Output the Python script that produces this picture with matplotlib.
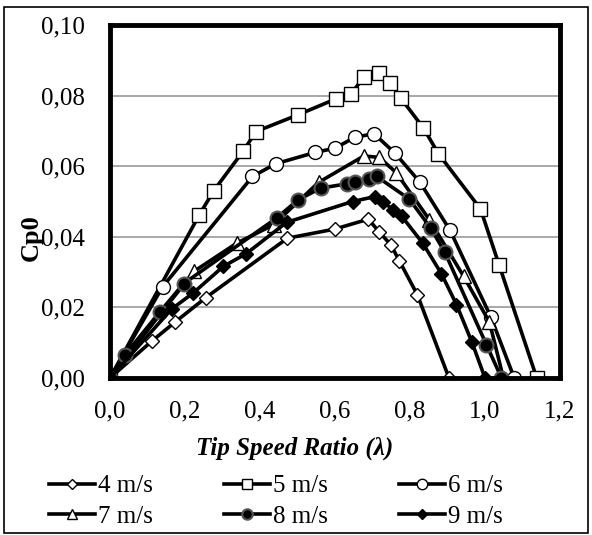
import numpy as np
import matplotlib
matplotlib.use("Agg")
import matplotlib.pyplot as plt
from matplotlib.patches import Rectangle

plt.rcParams['font.family'] = ['Liberation Serif', 'DejaVu Serif']

# tip speed ratio / power coefficient for each wind speed
tsr_4 = [0.0, 0.111, 0.173, 0.256, 0.473, 0.600, 0.689, 0.717, 0.749, 0.772, 0.820, 0.904]
cp_4 = [0.0, 0.0104, 0.0158, 0.0228, 0.0396, 0.0422, 0.0450, 0.0415, 0.0377, 0.0331, 0.0235, 0.0]

tsr_5 = [0.0, 0.238, 0.277, 0.356, 0.389, 0.500, 0.603, 0.642, 0.677, 0.718, 0.748,
         0.776, 0.836, 0.876, 0.988, 1.038, 1.138]
cp_5 = [0.0, 0.0462, 0.0531, 0.0644, 0.0698, 0.0745, 0.0791, 0.0804, 0.0852, 0.0865, 0.0837,
        0.0792, 0.0708, 0.0635, 0.0479, 0.0319, 0.0]

tsr_6 = [0.0, 0.140, 0.380, 0.442, 0.547, 0.600, 0.653, 0.704, 0.760, 0.827, 0.907, 1.016, 1.078]
cp_6 = [0.0, 0.0258, 0.0571, 0.0607, 0.0639, 0.0651, 0.0682, 0.0692, 0.0637, 0.0554, 0.0418, 0.0172, 0.0]

tsr_7 = [0.0, 0.224, 0.338, 0.436, 0.556, 0.677, 0.718, 0.763, 0.852, 0.943, 1.012, 1.049]
cp_7 = [0.0, 0.0302, 0.0382, 0.0434, 0.0554, 0.0629, 0.0625, 0.0582, 0.0448, 0.0288, 0.0158, 0.0]

tsr_8 = [0.0, 0.040, 0.132, 0.196, 0.444, 0.502, 0.562, 0.632, 0.652, 0.690, 0.711,
         0.798, 0.855, 0.893, 1.004, 1.044]
cp_8 = [0.0, 0.0066, 0.0186, 0.0267, 0.0453, 0.0505, 0.0538, 0.0550, 0.0554, 0.0563, 0.0571,
        0.0507, 0.0425, 0.0356, 0.0094, 0.0]

tsr_9 = [0.0, 0.164, 0.222, 0.302, 0.363, 0.471, 0.647, 0.707, 0.727, 0.756, 0.778,
         0.834, 0.884, 0.924, 0.965, 1.000]
cp_9 = [0.0, 0.0195, 0.0241, 0.0316, 0.0352, 0.0441, 0.0500, 0.0514, 0.0500, 0.0476, 0.0458,
        0.0382, 0.0295, 0.0208, 0.0102, 0.0]

labels = ['4 m/s', '5 m/s', '6 m/s', '7 m/s', '8 m/s', '9 m/s']
y_ticks = [0.0, 0.02, 0.04, 0.06, 0.08, 0.10]
x_ticks = [0.0, 0.2, 0.4, 0.6, 0.8, 1.0, 1.2]

fig = plt.figure(figsize=(5.92, 5.35), dpi=100)
ax = fig.add_axes([110 / 592, 1 - 378 / 535, 450 / 592, 353 / 535])

lw = 2.6
h4, = ax.plot(tsr_4, cp_4, '-', color='black', lw=lw, marker='D', ms=7, mfc='white', mec='black', mew=1, label=labels[0])
h5, = ax.plot(tsr_5, cp_5, '-', color='black', lw=lw, marker='s', ms=10, mfc='white', mec='black', mew=1, label=labels[1])
h6, = ax.plot(tsr_6, cp_6, '-', color='black', lw=lw, marker='o', ms=10, mfc='white', mec='black', mew=1, label=labels[2])
h7, = ax.plot(tsr_7, cp_7, '-', color='black', lw=lw, marker='^', ms=10, mfc='white', mec='black', mew=1, label=labels[3])
h8, = ax.plot(tsr_8, cp_8, '-', color='black', lw=lw, marker='o', ms=10, mfc='black', mec='#555555', mew=1.5, label=labels[4])
h9, = ax.plot(tsr_9, cp_9, '-', color='black', lw=lw, marker='D', ms=7, mfc='black', mec='black', mew=1, label=labels[5])

ax.set_xlim(0, 1.2)
ax.set_ylim(0, 0.10)
ax.set_xticks(x_ticks)
ax.set_yticks(y_ticks)
ax.set_xticklabels([f"{v:.1f}".replace('.', ',') for v in x_ticks], fontsize=18)
ax.set_yticklabels([f"{v:.2f}".replace('.', ',') for v in y_ticks], fontsize=18)
ax.tick_params(axis='x', length=0, pad=16)
ax.tick_params(axis='y', length=0, pad=18)
ax.grid(axis='y', color='#999999', lw=1.2)
ax.set_axisbelow(True)
for s in ax.spines.values():
    s.set_linewidth(3.5)
    s.set_color('black')

ax.set_xlabel('Tip Speed Ratio (λ)', fontsize=18, fontweight='bold', style='italic')
ax.xaxis.set_label_coords(0.411, -0.167)
ax.set_ylabel('Cp0', fontsize=19, fontweight='bold')
ax.yaxis.set_label_coords(-0.149, 0.397)

# row-major order: 4,5,6 / 7,8,9
handles = [h4, h7, h5, h8, h6, h9]
fig.legend(handles, [h.get_label() for h in handles], loc='upper left',
           bbox_to_anchor=(49 / 592, 1 - 475 / 535), ncol=3, frameon=False,
           fontsize=18, handlelength=1.85, handletextpad=0.1, columnspacing=2.85,
           labelspacing=0.31, markerscale=0.75, borderaxespad=0, borderpad=0)

fig.patches.append(Rectangle((4 / 592, 1 - 533 / 535), 584 / 592, 526 / 535,
                             transform=fig.transFigure, fill=False, lw=1.2, ec='black'))

fig.savefig('out.png', dpi=100)
